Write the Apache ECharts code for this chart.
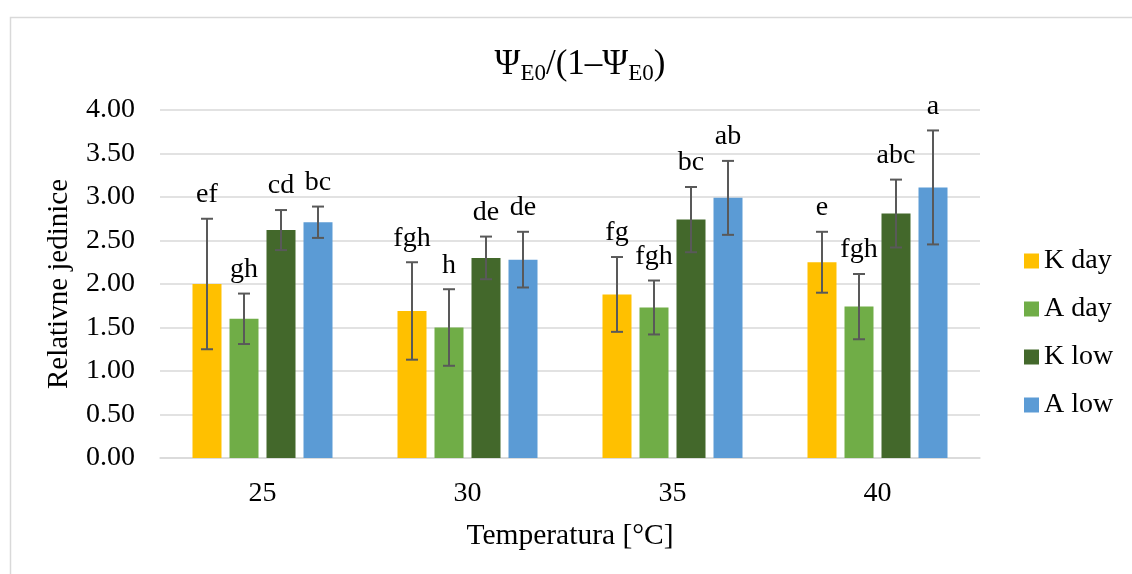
<!DOCTYPE html>
<html>
<head>
<meta charset="utf-8">
<script src="https://cdn.jsdelivr.net/npm/echarts@6/dist/echarts.min.js"></script>
<style>html,body{margin:0;padding:0;background:#fff;}#chart{width:1132px;height:574px;}</style>
</head>
<body>
<div id="chart"></div>
<script>
// ---- data ----
const categories = ['25', '30', '35', '40'];
const seriesNames = ['K day', 'A day', 'K low', 'A low'];
const kDay = [2.00, 1.69, 1.88, 2.25];
const aDay = [1.60, 1.50, 1.73, 1.74];
const kLow = [2.62, 2.30, 2.74, 2.81];
const aLow = [2.71, 2.28, 2.99, 3.11];
const kDayErr = [0.75, 0.56, 0.43, 0.35];
const aDayErr = [0.29, 0.44, 0.31, 0.375];
const kLowErr = [0.23, 0.245, 0.375, 0.39];
const aLowErr = [0.18, 0.32, 0.425, 0.655];
const kDayLetters = ['ef', 'fgh', 'fg', 'e'];
const aDayLetters = ['gh', 'h', 'fgh', 'fgh'];
const kLowLetters = ['cd', 'de', 'bc', 'abc'];
const aLowLetters = ['bc', 'de', 'ab', 'a'];
const yTicks = { min: 0, max: 4, interval: 0.5 };

// ---- styles ----
const colors = ['#FFC000', '#70AD47', '#43682B', '#5B9BD5'];
const FONT = "'Liberation Serif', 'Times New Roman', serif";
const BAR_W = 29, BAR_GAP = 8;

const values = [kDay, aDay, kLow, aLow];
const errs = [kDayErr, aDayErr, kLowErr, aLowErr];
const letters = [kDayLetters, aDayLetters, kLowLetters, aLowLetters];

const barSeries = seriesNames.map((n, s) => ({
  name: n,
  type: 'bar',
  data: values[s],
  barWidth: BAR_W,
  barGap: (BAR_GAP / BAR_W * 100).toFixed(1) + '%',
  itemStyle: { color: colors[s] },
  z: 2
}));

const errSeries = seriesNames.map((n, s) => ({
  name: 'err ' + n,
  type: 'custom',
  z: 5,
  clip: false,
  data: values[s].map((v, i) => [i, v - errs[s][i], v + errs[s][i]]),
  encode: { x: 0, y: [1, 2] },
  renderItem: function (params, api) {
    const xi = api.value(0);
    const lo = api.coord([xi, api.value(1)]);
    const hi = api.coord([xi, api.value(2)]);
    const cx = lo[0] + (s - 1.5) * (BAR_W + BAR_GAP);
    const cap = 6;
    const ls = { stroke: '#595959', lineWidth: 2 };
    return {
      type: 'group',
      children: [
        { type: 'line', shape: { x1: cx, y1: lo[1], x2: cx, y2: hi[1] }, style: ls },
        { type: 'line', shape: { x1: cx - cap, y1: lo[1], x2: cx + cap, y2: lo[1] }, style: ls },
        { type: 'line', shape: { x1: cx - cap, y1: hi[1], x2: cx + cap, y2: hi[1] }, style: ls },
        { type: 'text', style: { text: letters[s][params.dataIndex], x: cx, y: hi[1] - 10,
            align: 'center', verticalAlign: 'bottom', font: '28px ' + FONT, fill: '#000' } }
      ]
    };
  }
}));

const chart = echarts.init(document.getElementById('chart'));
chart.setOption({
  backgroundColor: '#fff',
  animation: false,
  graphic: [{
    type: 'rect', left: 8, top: 15,
    shape: { width: 1200, height: 700 },
    style: { fill: 'none', stroke: '#D9D9D9', lineWidth: 1.5 },
    silent: true
  }],
  title: {
    text: '{a|Ψ}{s|E0}{a|/(1–Ψ}{s|E0}{a|)}',
    left: 575, top: 40, textAlign: 'center',
    textStyle: {
      fontWeight: 'normal',
      rich: {
        a: { fontFamily: FONT, fontSize: 35, fontWeight: 'normal', color: '#000', lineHeight: 40 },
        s: { fontFamily: FONT, fontSize: 23, fontWeight: 'normal', color: '#000', lineHeight: 22, verticalAlign: 'bottom' }
      }
    }
  },
  legend: {
    data: seriesNames,
    orient: 'vertical',
    left: 1019, top: 242,
    itemWidth: 15, itemHeight: 15, itemGap: 20,
    icon: 'rect',
    textStyle: { fontFamily: FONT, fontSize: 28, color: '#000', lineHeight: 28 }
  },
  grid: { left: 160, right: 152, top: 110, bottom: 116 },
  xAxis: {
    type: 'category',
    data: categories,
    name: 'Temperatura [°C]',
    nameLocation: 'middle',
    nameGap: 63,
    nameTextStyle: { fontFamily: FONT, fontSize: 29.5, color: '#000' },
    axisTick: { show: false },
    axisLine: { lineStyle: { color: '#D9D9D9', width: 1.5 } },
    axisLabel: { fontFamily: FONT, fontSize: 28, color: '#000', margin: 22 }
  },
  yAxis: {
    type: 'value',
    min: yTicks.min, max: yTicks.max, interval: yTicks.interval,
    name: 'Relativne jedinice',
    nameLocation: 'middle',
    nameGap: 86,
    nameRotate: 90,
    nameTextStyle: { fontFamily: FONT, fontSize: 29, color: '#000' },
    axisLine: { show: false },
    axisTick: { show: false },
    splitLine: { lineStyle: { color: '#D9D9D9', width: 1.5 } },
    axisLabel: { fontFamily: FONT, fontSize: 28, color: '#000', margin: 25,
      formatter: v => v.toFixed(2) }
  },
  series: barSeries.concat(errSeries)
});
</script>
</body>
</html>
